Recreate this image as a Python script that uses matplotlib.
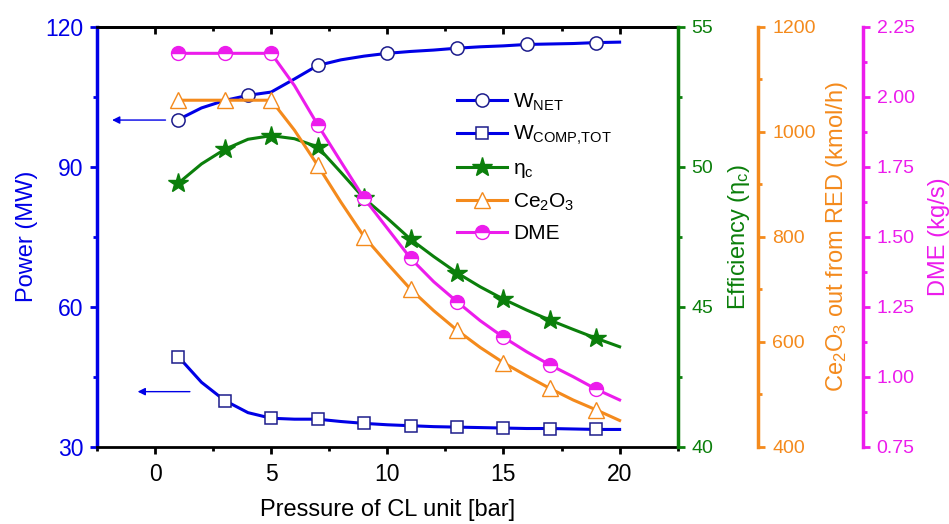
import matplotlib
matplotlib.use("Agg")
import matplotlib.pyplot as plt
from matplotlib.ticker import MultipleLocator, FormatStrFormatter

plt.rcParams['font.family'] = ['Liberation Sans', 'DejaVu Sans']
plt.rcParams['mathtext.default'] = 'regular'

# CL unit pressure (bar)
pressure = list(range(1, 21))

# Power (MW)
w_net = [100.1, 102.6, 104.2, 105.3, 106.0, 108.8, 111.7, 112.9, 113.7, 114.3,
         114.7, 115.0, 115.4, 115.7, 115.9, 116.2, 116.3, 116.4, 116.6, 116.7]
w_comp_tot = [49.3, 43.8, 39.9, 37.3, 36.1, 35.9, 35.9, 35.4, 35.0, 34.7,
              34.5, 34.3, 34.2, 34.1, 34.0, 33.9, 33.9, 33.8, 33.7, 33.7]

# Cycle efficiency (%)
eta_c = [49.41, 50.1, 50.62, 50.98, 51.11, 51.0, 50.71, 49.8, 48.87, 48.16,
         47.41, 46.79, 46.21, 45.71, 45.27, 44.88, 44.52, 44.19, 43.87, 43.57]

# Ce2O3 leaving the reduction reactor (kmol/h)
ce2o3 = [1060, 1060, 1060, 1060, 1060, 1003, 936, 866, 800, 749,
         700, 659, 622, 589, 560, 535, 511, 489, 470, 450]

# DME production (kg/s)
dme = [2.155, 2.155, 2.155, 2.155, 2.155, 2.04, 1.90, 1.768, 1.637, 1.53,
       1.423, 1.339, 1.268, 1.200, 1.141, 1.089, 1.042, 1.000, 0.955, 0.917]

BLUE = '#0000E6'
NAVY = '#1C1C8C'
GREEN = '#0B7F0B'
ORANGE = '#F48A1C'
MAGENTA = '#EC1CEC'

fig = plt.figure(figsize=(9.49, 5.24), dpi=100)
ax = fig.add_axes([0.1022, 0.1475, 0.6119, 0.8015])
ax2 = ax.twinx()
ax3 = ax.twinx()
ax4 = ax.twinx()

lw = 2.2
l1, = ax.plot(pressure, w_net, color=BLUE, lw=lw, marker='o', ms=9.5,
              mfc='white', mec=NAVY, mew=1.1, markevery=3,
              label='W$_{NET}$')
l2, = ax.plot(pressure, w_comp_tot, color=BLUE, lw=lw, marker='s', ms=9,
              mfc='white', mec=NAVY, mew=1.1, markevery=2,
              label='W$_{COMP{,}TOT}$')
l3, = ax2.plot(pressure, eta_c, color=GREEN, lw=lw, marker='*', ms=15,
               mfc=GREEN, mec=GREEN, markevery=2, label='η$_c$')
l4, = ax3.plot(pressure, ce2o3, color=ORANGE, lw=lw, marker='^', ms=11,
               mfc='white', mec=ORANGE, mew=1.0, markevery=2,
               label='Ce$_2$O$_3$')
l5, = ax4.plot(pressure, dme, color=MAGENTA, lw=lw, marker='o', ms=10,
               fillstyle='top', mfc=MAGENTA, mfcalt='white', mec=MAGENTA,
               mew=1.0, markevery=2, label='DME')

# Arrows pointing the two power curves to the left axis
arrow_kw = dict(arrowstyle='-|>', color=BLUE, lw=1.0, mutation_scale=11,
                shrinkA=0, shrinkB=0)
ax.annotate('', xy=(-1.85, 100.0), xytext=(0.45, 100.0), arrowprops=arrow_kw)
ax.annotate('', xy=(-0.75, 41.8), xytext=(1.5, 41.8), arrowprops=arrow_kw)

# Axis ranges and ticks
ax.set_xlim(-2.5, 22.5)
ax.set_ylim(30, 120)
ax2.set_ylim(40, 55)
ax3.set_ylim(400, 1200)
ax4.set_ylim(0.75, 2.25)

ax.xaxis.set_major_locator(MultipleLocator(5))
ax.xaxis.set_minor_locator(MultipleLocator(2.5))
ax.yaxis.set_major_locator(MultipleLocator(30))
ax.yaxis.set_minor_locator(MultipleLocator(15))
ax2.yaxis.set_major_locator(MultipleLocator(5))
ax2.yaxis.set_minor_locator(MultipleLocator(2.5))
ax3.yaxis.set_major_locator(MultipleLocator(200))
ax3.yaxis.set_minor_locator(MultipleLocator(100))
ax4.yaxis.set_major_locator(MultipleLocator(0.25))
ax4.yaxis.set_minor_locator(MultipleLocator(0.125))
ax4.yaxis.set_major_formatter(FormatStrFormatter('%.2f'))

tick_fs = 16.5
rtick_fs = 14
label_fs = 17

# Main axes spines
for s in ('top', 'bottom'):
    ax.spines[s].set_linewidth(2.0)
    ax.spines[s].set_color('black')
ax.spines['left'].set_color(BLUE)
ax.spines['left'].set_linewidth(2.5)
ax.spines['right'].set_visible(False)

ax.tick_params(axis='x', which='both', direction='out', top=False,
               colors='black', width=2.0, labelsize=tick_fs, pad=7)
ax.tick_params(axis='x', which='major', length=5)
ax.tick_params(axis='x', which='minor', length=3)
ax.tick_params(axis='y', which='both', direction='out', colors=BLUE,
               width=2.0, labelsize=tick_fs, pad=5)
ax.tick_params(axis='y', which='major', length=5)
ax.tick_params(axis='y', which='minor', length=3)

# Inward ticks along the top edge
top = ax.secondary_xaxis('top')
top.xaxis.set_major_locator(MultipleLocator(5))
top.xaxis.set_minor_locator(MultipleLocator(2.5))
top.tick_params(which='both', direction='in', width=2.0, labeltop=False)
top.tick_params(which='major', length=5)
top.tick_params(which='minor', length=3)
top.spines['top'].set_linewidth(2.0)

ax.set_xlabel('Pressure of CL unit [bar]', fontsize=label_fs, labelpad=9)
ax.set_ylabel('Power (MW)', fontsize=label_fs, color=BLUE, labelpad=5)

# Right-hand axes
for a, col, pos, lab, lp in (
        (ax2, GREEN, 1.0, 'Efficiency (η$_c$)', 9),
        (ax3, ORANGE, 1.1388, 'Ce$_2$O$_3$ out from RED (kmol/h)', 6),
        (ax4, MAGENTA, 1.3186, 'DME (kg/s)', 10)):
    for s in ('left', 'top', 'bottom'):
        a.spines[s].set_visible(False)
    a.spines['right'].set_position(('axes', pos))
    a.spines['right'].set_color(col)
    a.spines['right'].set_linewidth(2.5)
    a.tick_params(axis='y', which='both', direction='out', colors=col,
                  width=2.0, labelsize=rtick_fs, pad=5)
    a.tick_params(axis='y', which='major', length=5)
    a.tick_params(axis='y', which='minor', length=3)
    a.set_ylabel(lab, fontsize=label_fs, color=col, labelpad=lp)

handles = [l1, l2, l3, l4, l5]
ax4.legend(handles=handles, loc='upper left', bbox_to_anchor=(0.62, 0.846),
           frameon=False, fontsize=15, handlelength=2.4, handletextpad=0.3,
           labelspacing=0.55, borderpad=0, borderaxespad=0)

fig.savefig('out.png', dpi=100)
